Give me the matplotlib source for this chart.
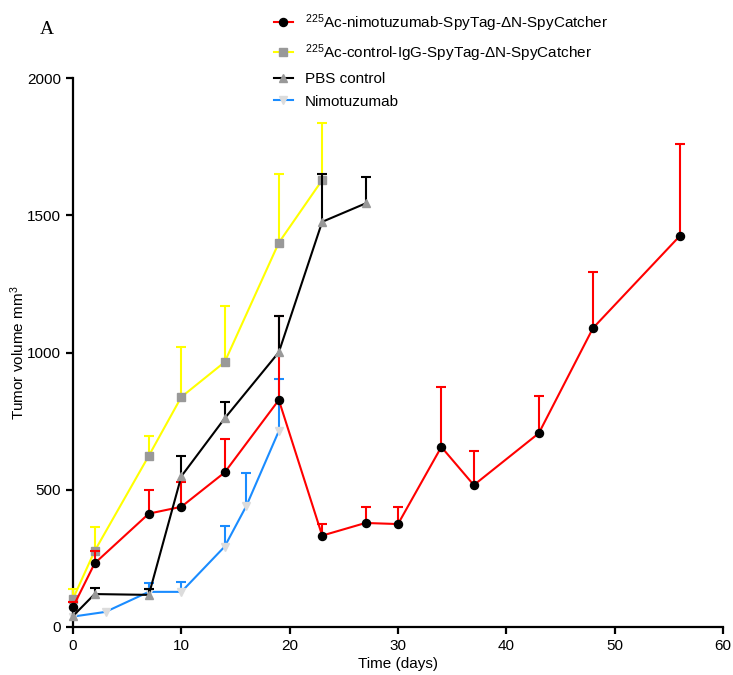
import numpy as np
import matplotlib
matplotlib.use("Agg")
import matplotlib.pyplot as plt

plt.rcParams['font.family'] = ['Liberation Sans', 'DejaVu Sans']
plt.rcParams['mathtext.default'] = 'regular'

# 225Ac-nimotuzumab-SpyTag-dN-SpyCatcher
t_ac = [0, 2, 7, 10, 14, 19, 23, 27, 30, 34, 37, 43, 48, 56]
ac_mean = [73, 232, 413, 438, 563, 827, 333, 379, 375, 656, 517, 706, 1089, 1424]
ac_sem = [19, 45, 86, 89, 121, 307, 41, 59, 63, 219, 123, 135, 204, 336]

# 225Ac-control-IgG-SpyTag-dN-SpyCatcher
t_igg = [0, 2, 7, 10, 14, 19, 23]
igg_mean = [103, 277, 624, 838, 965, 1400, 1628]
igg_sem = [35, 88, 72, 183, 203, 251, 207]

# PBS control
t_pbs = [0, 2, 7, 10, 14, 19, 23, 27]
pbs_mean = [40, 120, 117, 549, 760, 1001, 1476, 1543]
pbs_sem = [0, 23, 21, 75, 61, 133, 175, 95]

# Nimotuzumab
t_nimo = [0, 3, 7, 10, 14, 16, 19]
nimo_mean = [38, 55, 128, 128, 293, 441, 714]
nimo_sem = [0, 0, 32, 35, 75, 121, 191]

labels = [r'$^{225}$Ac-nimotuzumab-SpyTag-ΔN-SpyCatcher',
          r'$^{225}$Ac-control-IgG-SpyTag-ΔN-SpyCatcher',
          'PBS control',
          'Nimotuzumab']

fig = plt.figure(figsize=(7.33, 6.75), dpi=100)
ax = fig.add_axes([73/733, 48/675, 650/733, 549/675])


def draw(t, mean, sem, color, marker, mfc, ms, label, z):
    t = np.asarray(t)
    mean = np.asarray(mean)
    sem = np.asarray(sem)
    keep = sem > 0
    ax.vlines(t[keep], mean[keep], mean[keep] + sem[keep], color=color,
              lw=1.5, zorder=z, clip_on=False)
    ax.plot(t[keep], mean[keep] + sem[keep], ls='none', marker='_',
            ms=7, mew=1.5, color=color, zorder=z, clip_on=False)
    line, = ax.plot(t, mean, color=color, lw=1.5, marker=marker, ms=ms,
                    mfc=mfc, mec=mfc, zorder=z, label=label, clip_on=False)
    return line


h_nimo = draw(t_nimo, nimo_mean, nimo_sem, '#1a8cff', 'v', '#dcdcdc', 5.5,
              labels[3], 2)
h_igg = draw(t_igg, igg_mean, igg_sem, '#ffff00', 's', '#999999', 5.5,
             labels[1], 3)
h_ac = draw(t_ac, ac_mean, ac_sem, '#ff0000', 'o', 'black', 5.8,
            labels[0], 4)
h_pbs = draw(t_pbs, pbs_mean, pbs_sem, 'black', '^', '#999999', 5.8,
             labels[2], 5)

ax.set_xlim(0, 60)
ax.set_ylim(0, 2000)
ax.set_xticks([0, 10, 20, 30, 40, 50, 60])
ax.set_yticks([0, 500, 1000, 1500, 2000])
for s in ['top', 'right']:
    ax.spines[s].set_visible(False)
for s in ['left', 'bottom']:
    ax.spines[s].set_linewidth(1.6)
ax.tick_params(direction='out', length=5, width=1.6, labelsize=11)
ax.set_xlabel('Time (days)', fontsize=11, labelpad=3)
ax.set_ylabel('Tumor volume mm$^3$', fontsize=11, labelpad=0)

fig.legend(handles=[h_ac, h_igg, h_pbs, h_nimo], loc='upper left',
           bbox_to_anchor=(0.3565, 1.0), frameon=False, fontsize=11,
           handlelength=1.3, handletextpad=0.75, labelspacing=0.55,
           borderpad=0.3)

fig.text(40/733, 1 - 34/675, 'A', family='Liberation Serif', fontsize=14)

fig.savefig('out.png', dpi=100)
